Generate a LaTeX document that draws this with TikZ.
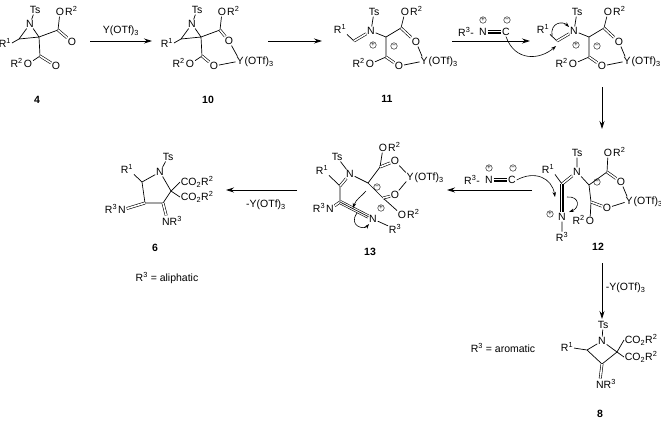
\documentclass[tikz,border=0pt]{standalone}
\usepackage{fontspec}
\setmainfont{Liberation Sans}
\usetikzlibrary{arrows.meta}
\newcommand\su[1]{\textsuperscript{#1}}
\newcommand\sbx[1]{\textsubscript{#1}}
\begin{document}
\begin{tikzpicture}[x=1pt,y=-1pt,
  a/.style={inner sep=0.7pt,font=\fontsize{10.5}{12}\selectfont},
  lab/.style={inner sep=0pt,font=\fontsize{10.5}{12}\selectfont\bfseries},
  bd/.style={line width=0.7pt},
  dbl/.style={line width=0.6pt,double,double distance=1.6pt},
  tri/.style={line width=0.6pt,double,double distance=2.8pt},
  rx/.style={line width=0.8pt,-{Stealth[length=8pt,width=5pt]}},
  cu/.style={line width=0.6pt,-{Stealth[length=5pt,width=3.5pt]}},
  chg/.style={circle,draw,line width=0.4pt,inner sep=0pt,minimum size=6.5pt,font=\fontsize{6.5}{6.5}\selectfont}]
\useasboundingbox (0,0) rectangle (661,421);
\newcommand\rto[2]{\node[a] (#1) at (#2) {O}; \node[a,anchor=base east,inner sep=0] at (#1.base west) {R\su{2}};}
\newcommand\orr[2]{\node[a] (#1) at (#2) {O}; \node[a,anchor=base west,inner sep=0] at (#1.base east) {R\su{2}};}
\newcommand\yo[2]{\node[a] (#1) at (#2) {Y}; \node[a,anchor=base west,inner sep=0] at (#1.base east) {(OTf)\sbx{3}};}
% ---------- 4 and 10 ----------
\newcommand\azir[3]{%
 \begin{scope}[xshift=#2]
 \node[a] (#1Ts) at (197,10) {Ts};
 \node[a] (#1N) at (192,24) {N};
 \node[a] (#1R) at (167,43) {R\su{1}};
 \coordinate (#1CL) at (181,39); \coordinate (#1CQ) at (201,37);
 \coordinate (#1CU) at (220,30); \coordinate (#1CD) at (202,56);
 \orr{#1OR}{222,12}
 \rto{#1OL}{190,64}
 \draw[bd] (#1N)--(#1Ts) (#1N)--(#1CL) (#1N)--(#1CQ) (#1CL)--(#1CQ) (#1CL)--(#1R.east)
   (#1CQ)--(#1CU) (#1CU)--(#1OR) (#1CQ)--(#1CD) (#1CD)--(#1OL);
 \ifnum#3=1\relax
  \node[a] (#1Ou) at (229,41) {O}; \node[a] (#1Od) at (214,66) {O};
  \yo{#1Y}{240,61}
  \draw[bd] (#1Ou)--(#1Y) (#1Od)--(#1Y);
 \else
  \node[a] (#1Ou) at (234,42) {O}; \node[a] (#1Od) at (218,66) {O};
 \fi
 \draw[dbl] (#1CU)--(#1Ou) (#1CD)--(#1Od);
 \end{scope}}
\azir{p}{-162}{0}
\azir{q}{0}{1}
\node[lab] (l4) at (37,100) {4};
\node[lab] (l10) at (208,100) {10};
\coordinate (a1s) at (90,41); \coordinate (a1e) at (152,41);
\draw[rx] (a1s)--(a1e);
\node[a] (a1t) at (121,31) {Y(OTf)\sbx{3}};
\coordinate (a2s) at (268,41); \coordinate (a2e) at (322,41);
\draw[rx] (a2s)--(a2e);
% ---------- 11 ----------
\newcommand\imin[2]{%
 \begin{scope}[xshift=#2]
 \node[a] (#1R) at (340,29) {R\su{1}};
 \coordinate (#1CH) at (354,41);
 \node[a] (#1N) at (371,31) {N};
 \node[a] (#1Ts) at (374,12) {Ts};
 \node[chg] (#1p) at (373,45) {+};
 \coordinate (#1Ca) at (386,37); \coordinate (#1CU) at (401,28); \coordinate (#1CD) at (386,57);
 \orr{#1OR}{405,12}
 \node[a] (#1Ou) at (416,42) {O}; \node[a] (#1Od) at (399,66) {O};
 \rto{#1OL}{370,64}
 \yo{#1Y}{424,61}
 \node[chg] (#1m) at (394,46) {\raisebox{0.3pt}{\textminus}};
 \draw[bd] (#1R.south east)--(#1CH) (#1N)--(#1Ts) (#1N)--(#1Ca) (#1Ca)--(#1CU) (#1CU)--(#1OR)
   (#1Ou)--(#1Y) (#1Ca)--(#1CD) (#1CD)--(#1OL) (#1Od)--(#1Y);
 \draw[dbl] (#1CH)--(#1N) (#1CU)--(#1Ou) (#1CD)--(#1Od);
 \end{scope}}
\imin{r}{0}
\imin{s}{203}
\node[lab] (l11) at (387,99) {11};
\coordinate (a3s) at (452,41); \coordinate (a3e) at (530,41);
\draw[rx] (a3s)--(a3e);
\node[a] (i1R) at (466,32) {R\su{3}-};
\node[a] (i1N) at (483,32) {N};
\node[a] (i1C) at (506,32) {C};
\draw[tri] (i1N)--(i1C); \draw[line width=0.6pt] (i1N)--(i1C);
\node[chg] at (483,20) {+}; \node[chg] at (507,20) {\raisebox{0.3pt}{\textminus}};
\draw[cu] (i1C.south) .. controls (515,62) and (540,60) .. (556,46);
\draw[cu] (552,36) .. controls (550,22) and (563,21) .. (569,27);
% down arrow
\coordinate (a4s) at (602,87); \coordinate (a4e) at (602,129);
\draw[rx] (a4s)--(a4e);
% ---------- 12 ----------
\node[a] (tTs) at (577,153) {Ts};
\node[a] (tN) at (577,172) {N};
\node[a] (tR) at (548,169) {R\su{1}};
\coordinate (tC) at (562,184);
\node[a] (tNt) at (562,217) {N};
\node[chg] (tp) at (550,214) {+};
\node[a] (tR3) at (562,237) {R\su{3}};
\coordinate (tCa) at (589,185); \coordinate (tCU) at (607,172); \coordinate (tCD) at (591,202);
\orr{tOR}{608,153}
\node[a] (tOu) at (621,182) {O}; \node[a] (tOd) at (607,208) {O};
\yo{tY}{629,201}
\rto{tOL}{590,221}
\node[chg] (tm) at (597,182) {\raisebox{0.3pt}{\textminus}};
\draw[bd] (tN)--(tTs) (tR.south east)--(tC) (tNt)--(tR3) (tN)--(tCa) (tCa)--(tCU) (tCU)--(tOR)
  (tOu)--(tY) (tCa)--(tCD) (tOd)--(tY) (tCD)--(tOL);
\draw[dbl] (tC)--(tN) (tCU)--(tOu) (tCD)--(tOd);
\draw[tri] (tC)--(tNt); \draw[line width=0.6pt] (tC)--(tNt);
\draw[cu] (567,197) .. controls (580,196) and (580,208) .. (569,212);
\node[lab] (l12) at (598,247) {12};
% reagent 2 and arrow
\coordinate (a5s) at (532,190); \coordinate (a5e) at (447,190);
\draw[rx] (a5s)--(a5e);
\node[a] (i2R) at (472,180) {R\su{3}-};
\node[a] (i2N) at (489,180) {N};
\node[a] (i2C) at (512,180) {C};
\draw[tri] (i2N)--(i2C); \draw[line width=0.6pt] (i2N)--(i2C);
\node[chg] at (489,168) {+}; \node[chg] at (513,168) {\raisebox{0.3pt}{\textminus}};
\draw[cu] (i2C.east) .. controls (535,170) and (552,178) .. (555,197);
% ---------- 13 ----------
\node[a] (uTs) at (337,157) {Ts};
\node[a] (uN) at (350,174) {N};
\node[a] (uR) at (322,170) {R\su{1}};
\coordinate (uC1) at (340,186); \coordinate (uC2) at (340,202);
\node[a] (uNi) at (330,209) {N}; \node[a,anchor=base east,inner sep=0] at (uNi.base west) {R\su{3}};
\node[a] (uNp) at (373,219) {N};
\node[chg] (up) at (381,208) {+};
\node[a] (uR3) at (395,229) {R\su{3}};
\coordinate (uCq) at (368,183); \coordinate (uCU) at (380,167); \coordinate (uCD) at (383,198);
\node[chg] (um) at (377,187) {\raisebox{0.3pt}{\textminus}};
\orr{uOR}{383,148}
\node[a] (uOu) at (395,161) {O}; \node[a] (uOd) at (395,195) {O};
\yo{uY}{410,177}
\orr{uOL}{402,215}
\draw[bd] (uN)--(uTs) (uR.south east)--(uC1) (uC1)--(uC2) (uNp)--(uR3) (uN)--(uCq) (uCq)--(uCU)
  (uCU)--(uOR) (uOu)--(uY) (uCq)--(uCD) (uOd)--(uY) (uCD)--(uOL);
\draw[dbl] (uC1)--(uN) (uC2)--(uNi) (uCU)--(uOu) (uCD)--(uOd);
\draw[tri] (uC2)--(uNp); \draw[line width=0.6pt] (uC2)--(uNp);
\draw[cu] (366,191) .. controls (362,196) and (356,199) .. (353,208);
\draw[cu] (357,213) .. controls (348,226) and (364,230) .. (369,224);
\node[lab] (l13) at (370,252) {13};
% arrow 13 -> 6
\coordinate (a6s) at (297,190); \coordinate (a6e) at (226,190);
\draw[rx] (a6s)--(a6e);
\node[a] (a6t) at (266,205) {-Y(OTf)\sbx{3}};
% ---------- 6 ----------
\node[a] (vTs) at (168,157) {Ts};
\node[a] (vN) at (160,172) {N};
\node[a] (vR) at (127,169) {R\su{1}};
\coordinate (vCR) at (142,182); \coordinate (vCq) at (171,191);
\coordinate (vC3) at (145,203); \coordinate (vC4) at (163,203);
\node[a] (vNi) at (122,210) {N}; \node[a,anchor=base east,inner sep=0] at (vNi.base west) {R\su{3}};
\node[a] (vNR) at (172,221) {NR\su{3}};
\node[a,anchor=west] (vE1) at (180,182) {CO\sbx{2}R\su{2}};
\node[a,anchor=west] (vE2) at (180,197) {CO\sbx{2}R\su{2}};
\draw[bd] (vN)--(vTs) (vN)--(vCR) (vN)--(vCq) (vCR)--(vR.south east) (vCR)--(vC3) (vC3)--(vC4)
  (vC4)--(vCq) (vCq)--(vE1.west) (vCq)--(vE2.west);
\draw[dbl] (vC3)--(vNi) (vC4)--([xshift=5pt]vNR.north west);
\node[lab] (l6) at (155,248) {6};
\node[a] (ali) at (167,278) {R\su{3} = aliphatic};
% ---------- 8 ----------
\coordinate (a7s) at (602,263); \coordinate (a7e) at (602,319);
\draw[rx] (a7s)--(a7e);
\node[a,anchor=west] (a7t) at (605,288) {-Y(OTf)\sbx{3}};
\node[a] (wTs) at (603,325) {Ts};
\node[a] (wN) at (602,341) {N};
\node[a] (wR) at (567,347) {R\su{1}};
\coordinate (wCR) at (587,350); \coordinate (wCq) at (617,352); \coordinate (wCb) at (602,364);
\node[a] (wNR) at (606,384) {NR\su{3}};
\node[a,anchor=west] (wE1) at (624,340) {CO\sbx{2}R\su{2}};
\node[a,anchor=west] (wE2) at (624,357) {CO\sbx{2}R\su{2}};
\draw[bd] (wN)--(wTs) (wN)--(wCR) (wN)--(wCq) (wCR)--(wR) (wCR)--(wCb) (wCb)--(wCq)
  (wCq)--(wE1.west) (wCq)--(wE2.west);
\draw[dbl] (wCb)--([xshift=5pt]wNR.north west);
\node[lab] (l8) at (600,414) {8};
\node[a] (aro) at (503,348) {R\su{3} = aromatic};
\end{tikzpicture}
\end{document}
